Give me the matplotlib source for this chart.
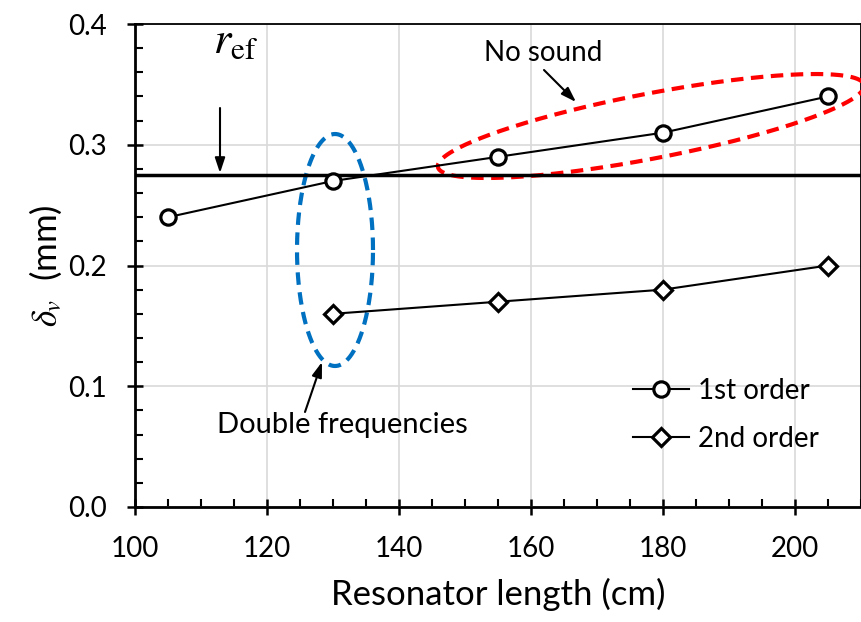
import numpy as np
import matplotlib
matplotlib.use("Agg")
import matplotlib.pyplot as plt

plt.rcParams["font.family"] = ["Lato", "DejaVu Sans"]
plt.rcParams["mathtext.fontset"] = "stix"

# data
len_1st = [105, 130, 155, 180, 205]
delta_1st = [0.24, 0.27, 0.29, 0.31, 0.34]
len_2nd = [130, 155, 180, 205]
delta_2nd = [0.16, 0.17, 0.18, 0.20]
r_ef = 0.275

fig = plt.figure(figsize=(8.61, 6.22), dpi=100)
ax = fig.add_axes([0.1568, 0.1849, 0.8432, 0.7765])

ax.plot(len_1st, delta_1st, color="black", lw=1.5, marker="o", ms=11,
        mfc="white", mec="black", mew=2.3, label="1st order", zorder=5)
ax.plot(len_2nd, delta_2nd, color="black", lw=1.5, marker="D", ms=9,
        mfc="white", mec="black", mew=2.3, label="2nd order", zorder=5)
ax.axhline(r_ef, color="black", lw=2.5, zorder=4)

ax.set_xlim(100, 210)
ax.set_ylim(0, 0.4)
ax.set_xticks(np.arange(100, 201, 20))
ax.set_xticks(np.arange(100, 211, 5), minor=True)
ax.set_yticks(np.arange(0, 0.41, 0.1))
ax.set_yticks(np.arange(0, 0.41, 0.02), minor=True)
ax.set_yticklabels(["0.0", "0.1", "0.2", "0.3", "0.4"])
ax.grid(True, which="major", color="#d9d9d9", lw=1.2)
ax.set_axisbelow(True)
ax.tick_params(which="major", direction="inout", length=12, width=1.8,
               labelsize=20)
ax.tick_params(axis="x", which="major", pad=15)
ax.tick_params(axis="y", which="major", pad=14)
ax.tick_params(which="minor", direction="in", length=6, width=1.5)
for s in ["left", "bottom"]:
    ax.spines[s].set_linewidth(2)
for s in ["top", "right"]:
    ax.spines[s].set_linewidth(1.3)

ax.set_xlabel("Resonator length (cm)", fontsize=25, labelpad=11)
ax.set_ylabel(r"$\delta_v$  (mm)", fontsize=25, labelpad=3)


def px_to_data(px, py):
    return 100 + (px - 135) / 6.6, (507 - py) / 1207.5


def dashed_ellipse(cx, cy, a, b, ang, color):
    t = np.linspace(0, 2 * np.pi, 400)
    th = np.deg2rad(ang)
    px = cx + a * np.cos(t) * np.cos(th) - b * np.sin(t) * np.sin(th)
    py = cy - (a * np.cos(t) * np.sin(th) + b * np.sin(t) * np.cos(th))
    x, y = px_to_data(px, py)
    ax.plot(x, y, color=color, lw=3, ls=(0, (3, 1.8)), zorder=3)


dashed_ellipse(335, 250, 38, 116, 0, "#0070C0")
dashed_ellipse(651, 126, 217, 32.5, 10.9, "#FF0000")

arrow = dict(arrowstyle="-|>,head_length=0.9,head_width=0.3", color="black",
             lw=1.5, shrinkA=0, shrinkB=0)
ax.annotate("", xy=px_to_data(220, 173), xytext=px_to_data(220, 108),
            arrowprops=arrow)
ax.text(*px_to_data(236, 40), r"$r_{\rm ef}$", fontsize=32, ha="center",
        va="center")
ax.annotate("", xy=px_to_data(576, 102), xytext=px_to_data(544, 70),
            arrowprops=arrow)
ax.text(*px_to_data(543, 53), "No sound", fontsize=20, ha="center",
        va="center")
ax.annotate("", xy=px_to_data(322, 362), xytext=px_to_data(305, 412),
            arrowprops=arrow)
ax.text(*px_to_data(342, 425), "Double frequencies", fontsize=21,
        ha="center", va="center")

ax.legend(loc="upper left", bbox_to_anchor=(0.686, 0.268), frameon=False,
          fontsize=20, handlelength=2.0, labelspacing=0.8, handletextpad=0.35,
          borderpad=0, borderaxespad=0)

fig.savefig("out.png", dpi=100)
